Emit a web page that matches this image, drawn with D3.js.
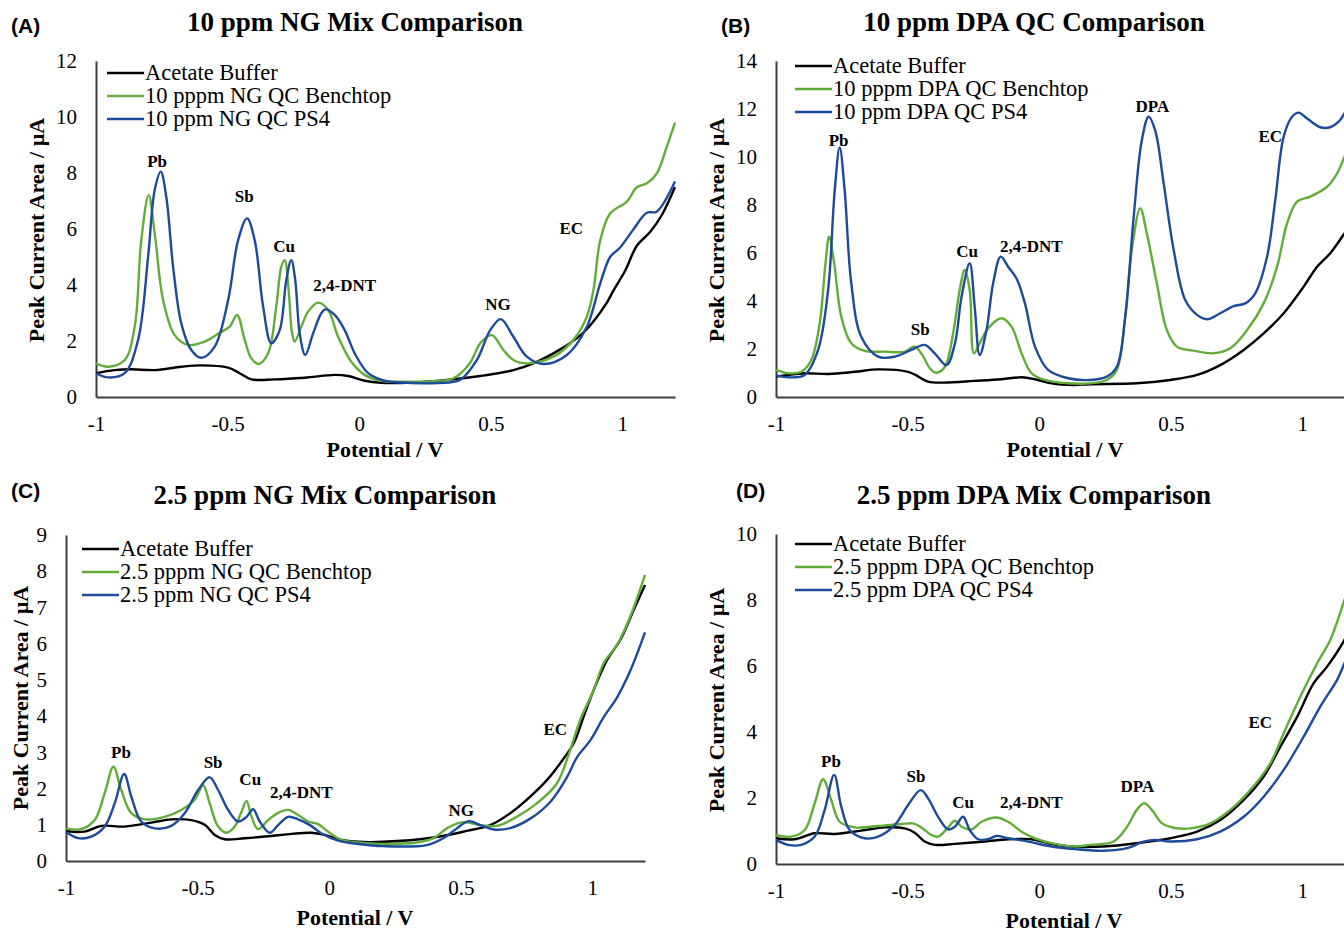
<!DOCTYPE html>
<html>
<head>
<meta charset="utf-8">
<script src="https://cdn.jsdelivr.net/npm/d3@7"></script>
<style>
  html, body { margin: 0; padding: 0; background: #fff; }
  svg { display: block; }
</style>
</head>
<body>
<svg id="fig" width="1344" height="932"></svg>
<script>
// ---- Square-wave voltammograms: [potential (V), peak current area (µA)] ----

// (A) 10 ppm NG mix
const bufferNG10 = [[-1,0.85],[-0.93,0.96],[-0.866,0.99],[-0.777,0.96],[-0.676,1.08],[-0.6,1.13],[-0.498,1.05],[-0.454,0.85],[-0.41,0.63],[-0.321,0.63],[-0.207,0.69],[-0.093,0.79],[-0.042,0.75],[0.021,0.58],[0.084,0.51],[0.2,0.52],[0.333,0.61],[0.46,0.75],[0.586,0.96],[0.662,1.2],[0.764,1.7],[0.84,2.2],[0.89,2.7],[0.94,3.35],[0.966,3.8],[1.01,4.5],[1.055,5.4],[1.106,5.9],[1.15,6.5],[1.2,7.5]];
const benchNG10 = [[-1,1.2],[-0.954,1.08],[-0.891,1.32],[-0.853,2.51],[-0.828,5.6],[-0.8,7.21],[-0.777,5.85],[-0.745,3.46],[-0.701,2.21],[-0.65,1.86],[-0.587,1.98],[-0.524,2.33],[-0.492,2.51],[-0.464,2.93],[-0.435,2.04],[-0.41,1.38],[-0.382,1.18],[-0.346,1.56],[-0.315,3.23],[-0.296,4.65],[-0.283,4.89],[-0.268,3.82],[-0.255,2.27],[-0.245,1.98],[-0.22,2.51],[-0.194,3.05],[-0.156,3.37],[-0.118,3.11],[-0.08,2.15],[-0.03,1.26],[0.021,0.79],[0.084,0.58],[0.2,0.55],[0.3,0.57],[0.358,0.67],[0.42,1.2],[0.46,1.92],[0.504,2.21],[0.548,1.68],[0.586,1.32],[0.637,1.2],[0.738,1.44],[0.814,2.04],[0.865,2.87],[0.89,3.82],[0.916,5.6],[0.954,6.56],[1.017,6.98],[1.055,7.49],[1.093,7.63],[1.131,7.99],[1.169,8.94],[1.2,9.8]];
const ps4NG10 = [[-1,0.85],[-0.954,0.7],[-0.891,0.85],[-0.84,2.04],[-0.802,5.01],[-0.777,7.39],[-0.754,8.05],[-0.733,7.15],[-0.707,4.65],[-0.676,2.63],[-0.638,1.68],[-0.6,1.4],[-0.549,1.8],[-0.498,3.46],[-0.46,5.6],[-0.426,6.38],[-0.397,5.6],[-0.365,3.23],[-0.334,1.92],[-0.302,2.39],[-0.277,4.18],[-0.258,4.89],[-0.243,4.18],[-0.226,2.27],[-0.205,1.5],[-0.175,2.27],[-0.144,2.99],[-0.128,3.13],[-0.093,2.93],[-0.055,2.39],[-0.017,1.56],[0.034,0.85],[0.097,0.58],[0.2,0.5],[0.3,0.5],[0.383,0.61],[0.447,1.32],[0.498,2.39],[0.538,2.78],[0.586,2.15],[0.637,1.44],[0.7,1.18],[0.789,1.5],[0.865,2.51],[0.916,4.06],[0.954,5.01],[0.99,5.32],[1.04,5.96],[1.093,6.58],[1.13,6.62],[1.2,7.7]];

// (B) 10 ppm DPA QC
const bufferDPA10 = [[-1,0.85],[-0.954,0.92],[-0.891,0.99],[-0.8,0.96],[-0.7,1.05],[-0.612,1.15],[-0.498,1.05],[-0.47,0.92],[-0.422,0.64],[-0.358,0.6],[-0.245,0.67],[-0.143,0.74],[-0.067,0.82],[-0.016,0.74],[0.047,0.57],[0.13,0.5],[0.194,0.53],[0.371,0.57],[0.498,0.71],[0.6,0.92],[0.688,1.33],[0.777,1.96],[0.853,2.65],[0.929,3.49],[1.005,4.6],[1.056,5.43],[1.106,5.99],[1.16,6.82],[1.2,7.5]];
const benchDPA10 = [[-1,1.13],[-0.954,0.99],[-0.904,1.05],[-0.866,1.54],[-0.834,3.07],[-0.812,5.57],[-0.798,6.68],[-0.779,5.57],[-0.752,3.35],[-0.714,2.24],[-0.663,1.92],[-0.587,1.89],[-0.51,1.89],[-0.473,2.1],[-0.44,1.68],[-0.416,1.2],[-0.39,1.01],[-0.358,1.26],[-0.327,2.65],[-0.302,4.46],[-0.283,5.29],[-0.264,4.46],[-0.248,1.82],[-0.226,2.24],[-0.194,2.86],[-0.143,3.28],[-0.105,2.93],[-0.067,1.82],[-0.029,0.99],[0.022,0.71],[0.11,0.57],[0.194,0.57],[0.257,0.71],[0.295,1.13],[0.327,3.35],[0.352,6.13],[0.384,7.86],[0.409,6.82],[0.447,4.74],[0.485,2.79],[0.523,2.1],[0.586,1.93],[0.662,1.82],[0.726,2.03],[0.79,2.79],[0.853,3.9],[0.904,5.43],[0.942,7.24],[0.98,8.14],[1.03,8.35],[1.094,8.76],[1.132,9.32],[1.16,10.0],[1.2,11.0]];
const ps4DPA10 = [[-1,0.9],[-0.954,0.82],[-0.891,0.92],[-0.84,1.96],[-0.802,4.46],[-0.777,8.6],[-0.758,10.4],[-0.739,8.6],[-0.714,4.74],[-0.676,2.51],[-0.612,1.68],[-0.549,1.68],[-0.486,1.96],[-0.435,2.17],[-0.397,1.82],[-0.352,1.33],[-0.32,2.24],[-0.295,4.18],[-0.264,5.57],[-0.245,3.76],[-0.226,1.75],[-0.2,2.79],[-0.175,4.74],[-0.146,5.85],[-0.118,5.43],[-0.086,4.94],[-0.054,3.9],[-0.016,2.1],[0.034,1.13],[0.11,0.78],[0.194,0.71],[0.257,0.85],[0.295,1.26],[0.327,3.35],[0.359,7.5],[0.39,10.7],[0.416,11.68],[0.441,11.1],[0.473,8.9],[0.511,6.13],[0.555,4.04],[0.6,3.42],[0.638,3.24],[0.688,3.49],[0.739,3.79],[0.783,3.9],[0.821,4.32],[0.866,5.85],[0.897,8.2],[0.929,10.85],[0.961,11.68],[0.986,11.85],[1.018,11.6],[1.068,11.24],[1.106,11.24],[1.138,11.47],[1.16,11.82],[1.2,12.6]];

// (C) 2.5 ppm NG mix
const bufferNG25 = [[-1,0.82],[-0.93,0.81],[-0.866,0.97],[-0.777,0.95],[-0.676,1.06],[-0.6,1.15],[-0.524,1.13],[-0.473,1.0],[-0.435,0.72],[-0.397,0.6],[-0.32,0.63],[-0.22,0.69],[-0.143,0.75],[-0.067,0.78],[-0.016,0.72],[0.047,0.58],[0.11,0.53],[0.206,0.53],[0.397,0.65],[0.523,0.83],[0.612,0.99],[0.688,1.32],[0.764,1.78],[0.828,2.24],[0.878,2.7],[0.929,3.25],[0.967,3.99],[1.005,4.72],[1.056,5.55],[1.106,6.1],[1.157,6.93],[1.2,7.62]];
const benchNG25 = [[-1,0.9],[-0.942,0.88],[-0.891,1.13],[-0.853,1.87],[-0.82,2.6],[-0.79,1.96],[-0.752,1.32],[-0.701,1.15],[-0.625,1.22],[-0.562,1.41],[-0.511,1.69],[-0.479,2.09],[-0.454,1.59],[-0.422,0.95],[-0.39,0.78],[-0.359,0.95],[-0.333,1.36],[-0.314,1.66],[-0.295,1.22],[-0.27,0.88],[-0.232,1.13],[-0.194,1.33],[-0.156,1.41],[-0.118,1.27],[-0.08,1.09],[-0.042,1.02],[-0.004,0.81],[0.047,0.58],[0.11,0.51],[0.206,0.47],[0.333,0.51],[0.397,0.63],[0.447,0.9],[0.498,1.06],[0.53,1.06],[0.574,0.99],[0.637,0.97],[0.713,1.22],[0.789,1.59],[0.865,2.14],[0.916,3.07],[0.954,3.9],[1.005,4.72],[1.043,5.46],[1.094,5.97],[1.144,6.75],[1.2,7.9]];
const ps4NG25 = [[-1,0.8],[-0.954,0.63],[-0.904,0.67],[-0.853,0.95],[-0.815,1.59],[-0.779,2.4],[-0.752,1.78],[-0.714,1.09],[-0.663,0.9],[-0.6,0.97],[-0.549,1.32],[-0.498,1.96],[-0.454,2.31],[-0.422,1.96],[-0.384,1.41],[-0.346,1.09],[-0.314,1.22],[-0.289,1.43],[-0.264,1.09],[-0.226,0.78],[-0.194,0.99],[-0.156,1.22],[-0.118,1.15],[-0.073,0.99],[-0.029,0.76],[0.034,0.56],[0.11,0.47],[0.206,0.41],[0.371,0.44],[0.434,0.63],[0.485,0.9],[0.53,1.1],[0.574,0.99],[0.625,0.87],[0.688,0.91],[0.764,1.17],[0.84,1.63],[0.904,2.32],[0.942,2.87],[0.992,3.33],[1.043,3.97],[1.094,4.52],[1.144,5.25],[1.2,6.31]];

// (D) 2.5 ppm DPA mix
const bufferDPA25 = [[-1,0.78],[-0.93,0.75],[-0.853,0.93],[-0.777,0.91],[-0.676,1.01],[-0.587,1.11],[-0.511,1.08],[-0.473,0.95],[-0.435,0.68],[-0.397,0.58],[-0.32,0.61],[-0.206,0.68],[-0.118,0.75],[-0.029,0.75],[0.034,0.63],[0.118,0.53],[0.245,0.53],[0.371,0.63],[0.498,0.78],[0.6,0.98],[0.688,1.33],[0.777,1.94],[0.853,2.65],[0.916,3.55],[0.98,4.46],[1.043,5.48],[1.094,5.98],[1.16,6.79],[1.2,7.5]];
const benchDPA25 = [[-1,0.88],[-0.942,0.83],[-0.891,1.03],[-0.853,1.84],[-0.821,2.57],[-0.79,1.94],[-0.758,1.28],[-0.7,1.11],[-0.612,1.15],[-0.524,1.21],[-0.479,1.23],[-0.448,1.11],[-0.41,0.88],[-0.384,0.83],[-0.346,1.11],[-0.32,1.31],[-0.295,1.13],[-0.257,1.05],[-0.219,1.28],[-0.162,1.41],[-0.118,1.28],[-0.067,0.98],[-0.016,0.78],[0.06,0.61],[0.136,0.53],[0.194,0.58],[0.283,0.68],[0.334,1.13],[0.371,1.64],[0.399,1.84],[0.428,1.64],[0.467,1.23],[0.511,1.1],[0.574,1.08],[0.65,1.23],[0.726,1.64],[0.802,2.24],[0.878,3.05],[0.929,3.96],[0.992,5.07],[1.056,6.08],[1.106,6.79],[1.16,8.0],[1.2,9.0]];
const ps4DPA25 = [[-1,0.73],[-0.954,0.58],[-0.904,0.58],[-0.853,0.83],[-0.815,1.64],[-0.779,2.7],[-0.752,1.74],[-0.72,1.03],[-0.663,0.78],[-0.612,0.83],[-0.549,1.18],[-0.498,1.79],[-0.45,2.24],[-0.422,1.99],[-0.384,1.43],[-0.346,1.05],[-0.32,1.13],[-0.289,1.43],[-0.264,1.03],[-0.232,0.75],[-0.194,0.75],[-0.162,0.85],[-0.118,0.78],[-0.042,0.68],[0.047,0.53],[0.136,0.45],[0.245,0.4],[0.334,0.48],[0.397,0.68],[0.441,0.73],[0.498,0.68],[0.6,0.75],[0.688,0.98],[0.777,1.43],[0.853,2.04],[0.929,2.85],[1.005,3.86],[1.068,4.77],[1.132,5.58],[1.16,6.08],[1.2,6.8]];

// Axis ticks
const potentialTicks = [-1, -0.5, 0, 0.5, 1];
const currentTicksNG10 = [0, 2, 4, 6, 8, 10, 12];
const currentTicksDPA10 = [0, 2, 4, 6, 8, 10, 12, 14];
const currentTicksNG25 = [0, 1, 2, 3, 4, 5, 6, 7, 8, 9];
const currentTicksDPA25 = [0, 2, 4, 6, 8, 10];

// Legend entries
const legendNG10 = ["Acetate Buffer", "10 pppm NG QC Benchtop", "10 ppm NG QC PS4"];
const legendDPA10 = ["Acetate Buffer", "10 pppm DPA QC Benchtop", "10 ppm DPA QC PS4"];
const legendNG25 = ["Acetate Buffer", "2.5 pppm NG QC Benchtop", "2.5 ppm NG QC PS4"];
const legendDPA25 = ["Acetate Buffer", "2.5 pppm DPA QC Benchtop", "2.5 ppm DPA QC PS4"];

// ---- Layout and styling ----
const COLORS = ["#000000", "#62ad3a", "#1d4a9a"];
const SERIF = "'Liberation Serif', 'Times New Roman', serif";
const SANS = "'Liberation Sans', Arial, sans-serif";

const panels = [
  {
    tag: "(A)", tagPos: [11, 33],
    title: "10 ppm NG Mix Comparison", titlePos: [355, 31],
    xRange: [96, 675], yRange: [397, 61], yMax: 12, yTicks: currentTicksNG10,
    series: [bufferNG10, benchNG10, ps4NG10], legend: legendNG10,
    legendPos: [107, 73], legendStep: 23,
    yLabelPos: [44, 230], xLabelPos: [385, 457],
    peaks: [["Pb", -0.768, 8.21], ["Sb", -0.437, 6.96], ["Cu", -0.285, 5.18],
            ["2,4-DNT", -0.055, 3.79], ["NG", 0.527, 3.11], ["EC", 0.806, 5.82]]
  },
  {
    tag: "(B)", tagPos: [721, 33],
    title: "10 ppm DPA QC Comparison", titlePos: [1034, 31],
    xRange: [776, 1355], yRange: [397, 61], yMax: 14, yTicks: currentTicksDPA10,
    series: [bufferDPA10, benchDPA10, ps4DPA10], legend: legendDPA10,
    legendPos: [795, 66], legendStep: 23,
    yLabelPos: [724, 230], xLabelPos: [1065, 457],
    peaks: [["Pb", -0.762, 10.46], ["Sb", -0.452, 2.58], ["Cu", -0.274, 5.83],
            ["2,4-DNT", -0.03, 6.04], ["DPA", 0.43, 11.88], ["EC", 0.878, 10.63]]
  },
  {
    tag: "(C)", tagPos: [11, 498],
    title: "2.5 ppm NG Mix Comparison", titlePos: [325, 504],
    xRange: [66, 645], yRange: [861, 535], yMax: 9, yTicks: currentTicksNG25,
    series: [bufferNG25, benchNG25, ps4NG25], legend: legendNG25,
    legendPos: [82, 549], legendStep: 23,
    yLabelPos: [28, 698], xLabelPos: [355, 925],
    peaks: [["Pb", -0.791, 2.85], ["Sb", -0.441, 2.57], ["Cu", -0.30, 2.10],
            ["2,4-DNT", -0.106, 1.74], ["NG", 0.502, 1.24], ["EC", 0.859, 3.48]]
  },
  {
    tag: "(D)", tagPos: [736, 498],
    title: "2.5 ppm DPA Mix Comparison", titlePos: [1034, 504],
    xRange: [776, 1355], yRange: [864, 534], yMax: 10, yTicks: currentTicksDPA25,
    series: [bufferDPA25, benchDPA25, ps4DPA25], legend: legendDPA25,
    legendPos: [795, 544], legendStep: 23,
    yLabelPos: [724, 700], xLabelPos: [1064, 928],
    peaks: [["Pb", -0.791, 2.94], ["Sb", -0.468, 2.48], ["Cu", -0.289, 1.70],
            ["2,4-DNT", -0.03, 1.70], ["DPA", 0.373, 2.18], ["EC", 0.84, 4.12]]
  }
];

const svg = d3.select("#fig");

panels.forEach(p => {
  const g = svg.append("g");
  const x = d3.scaleLinear().domain([-1, 1.2]).range(p.xRange);
  const y = d3.scaleLinear().domain([0, p.yMax]).range(p.yRange);

  // axes
  const xAxis = d3.axisBottom(x).tickValues(potentialTicks)
    .tickFormat(d => String(d)).tickSize(0).tickPadding(19);
  const yAxis = d3.axisLeft(y).tickValues(p.yTicks)
    .tickFormat(d => String(d)).tickSize(0).tickPadding(19);

  const gx = g.append("g").attr("transform", `translate(0,${p.yRange[0]})`).call(xAxis);
  const gy = g.append("g").attr("transform", `translate(${p.xRange[0]},0)`).call(yAxis);
  [gx, gy].forEach(a => {
    a.select(".domain").attr("stroke", "#3c3c3c").attr("stroke-width", 2);
    a.selectAll(".tick text")
      .attr("fill", "#000")
      .style("font-family", SERIF)
      .style("font-size", "21px");
  });

  // curves
  const line = d3.line()
    .x(d => x(d[0]))
    .y(d => y(d[1]))
    .curve(d3.curveCatmullRom.alpha(0.5));

  p.series.forEach((s, i) => {
    g.append("path")
      .datum(s)
      .attr("d", line)
      .attr("fill", "none")
      .attr("stroke", COLORS[i])
      .attr("stroke-width", 2.4)
      .attr("stroke-linejoin", "round");
  });

  // peak annotations
  g.selectAll("text.peak")
    .data(p.peaks)
    .join("text")
    .attr("class", "peak")
    .attr("x", d => x(d[1]))
    .attr("y", d => y(d[2]))
    .attr("text-anchor", "middle")
    .style("font-family", SERIF)
    .style("font-weight", "bold")
    .style("font-size", "17px")
    .text(d => d[0]);

  // legend
  const lg = g.append("g");
  p.legend.forEach((label, i) => {
    const ly = p.legendPos[1] + i * p.legendStep;
    lg.append("line")
      .attr("x1", p.legendPos[0]).attr("x2", p.legendPos[0] + 37)
      .attr("y1", ly).attr("y2", ly)
      .attr("stroke", COLORS[i]).attr("stroke-width", 2.4);
    lg.append("text")
      .attr("x", p.legendPos[0] + 38)
      .attr("y", ly + 7)
      .style("font-family", SERIF)
      .style("font-size", "22.5px")
      .text(label);
  });

  // titles and axis labels
  g.append("text")
    .attr("x", p.titlePos[0]).attr("y", p.titlePos[1])
    .attr("text-anchor", "middle")
    .style("font-family", SERIF).style("font-weight", "bold").style("font-size", "27px")
    .text(p.title);

  g.append("text")
    .attr("x", p.tagPos[0]).attr("y", p.tagPos[1])
    .style("font-family", SANS).style("font-weight", "bold").style("font-size", "21px")
    .text(p.tag);

  g.append("text")
    .attr("transform", `translate(${p.yLabelPos[0]},${p.yLabelPos[1]}) rotate(-90)`)
    .attr("text-anchor", "middle")
    .style("font-family", SERIF).style("font-weight", "bold").style("font-size", "22px")
    .text("Peak Current Area / µA");

  g.append("text")
    .attr("x", p.xLabelPos[0]).attr("y", p.xLabelPos[1])
    .attr("text-anchor", "middle")
    .style("font-family", SERIF).style("font-weight", "bold").style("font-size", "22px")
    .text("Potential / V");
});
</script>
</body>
</html>
